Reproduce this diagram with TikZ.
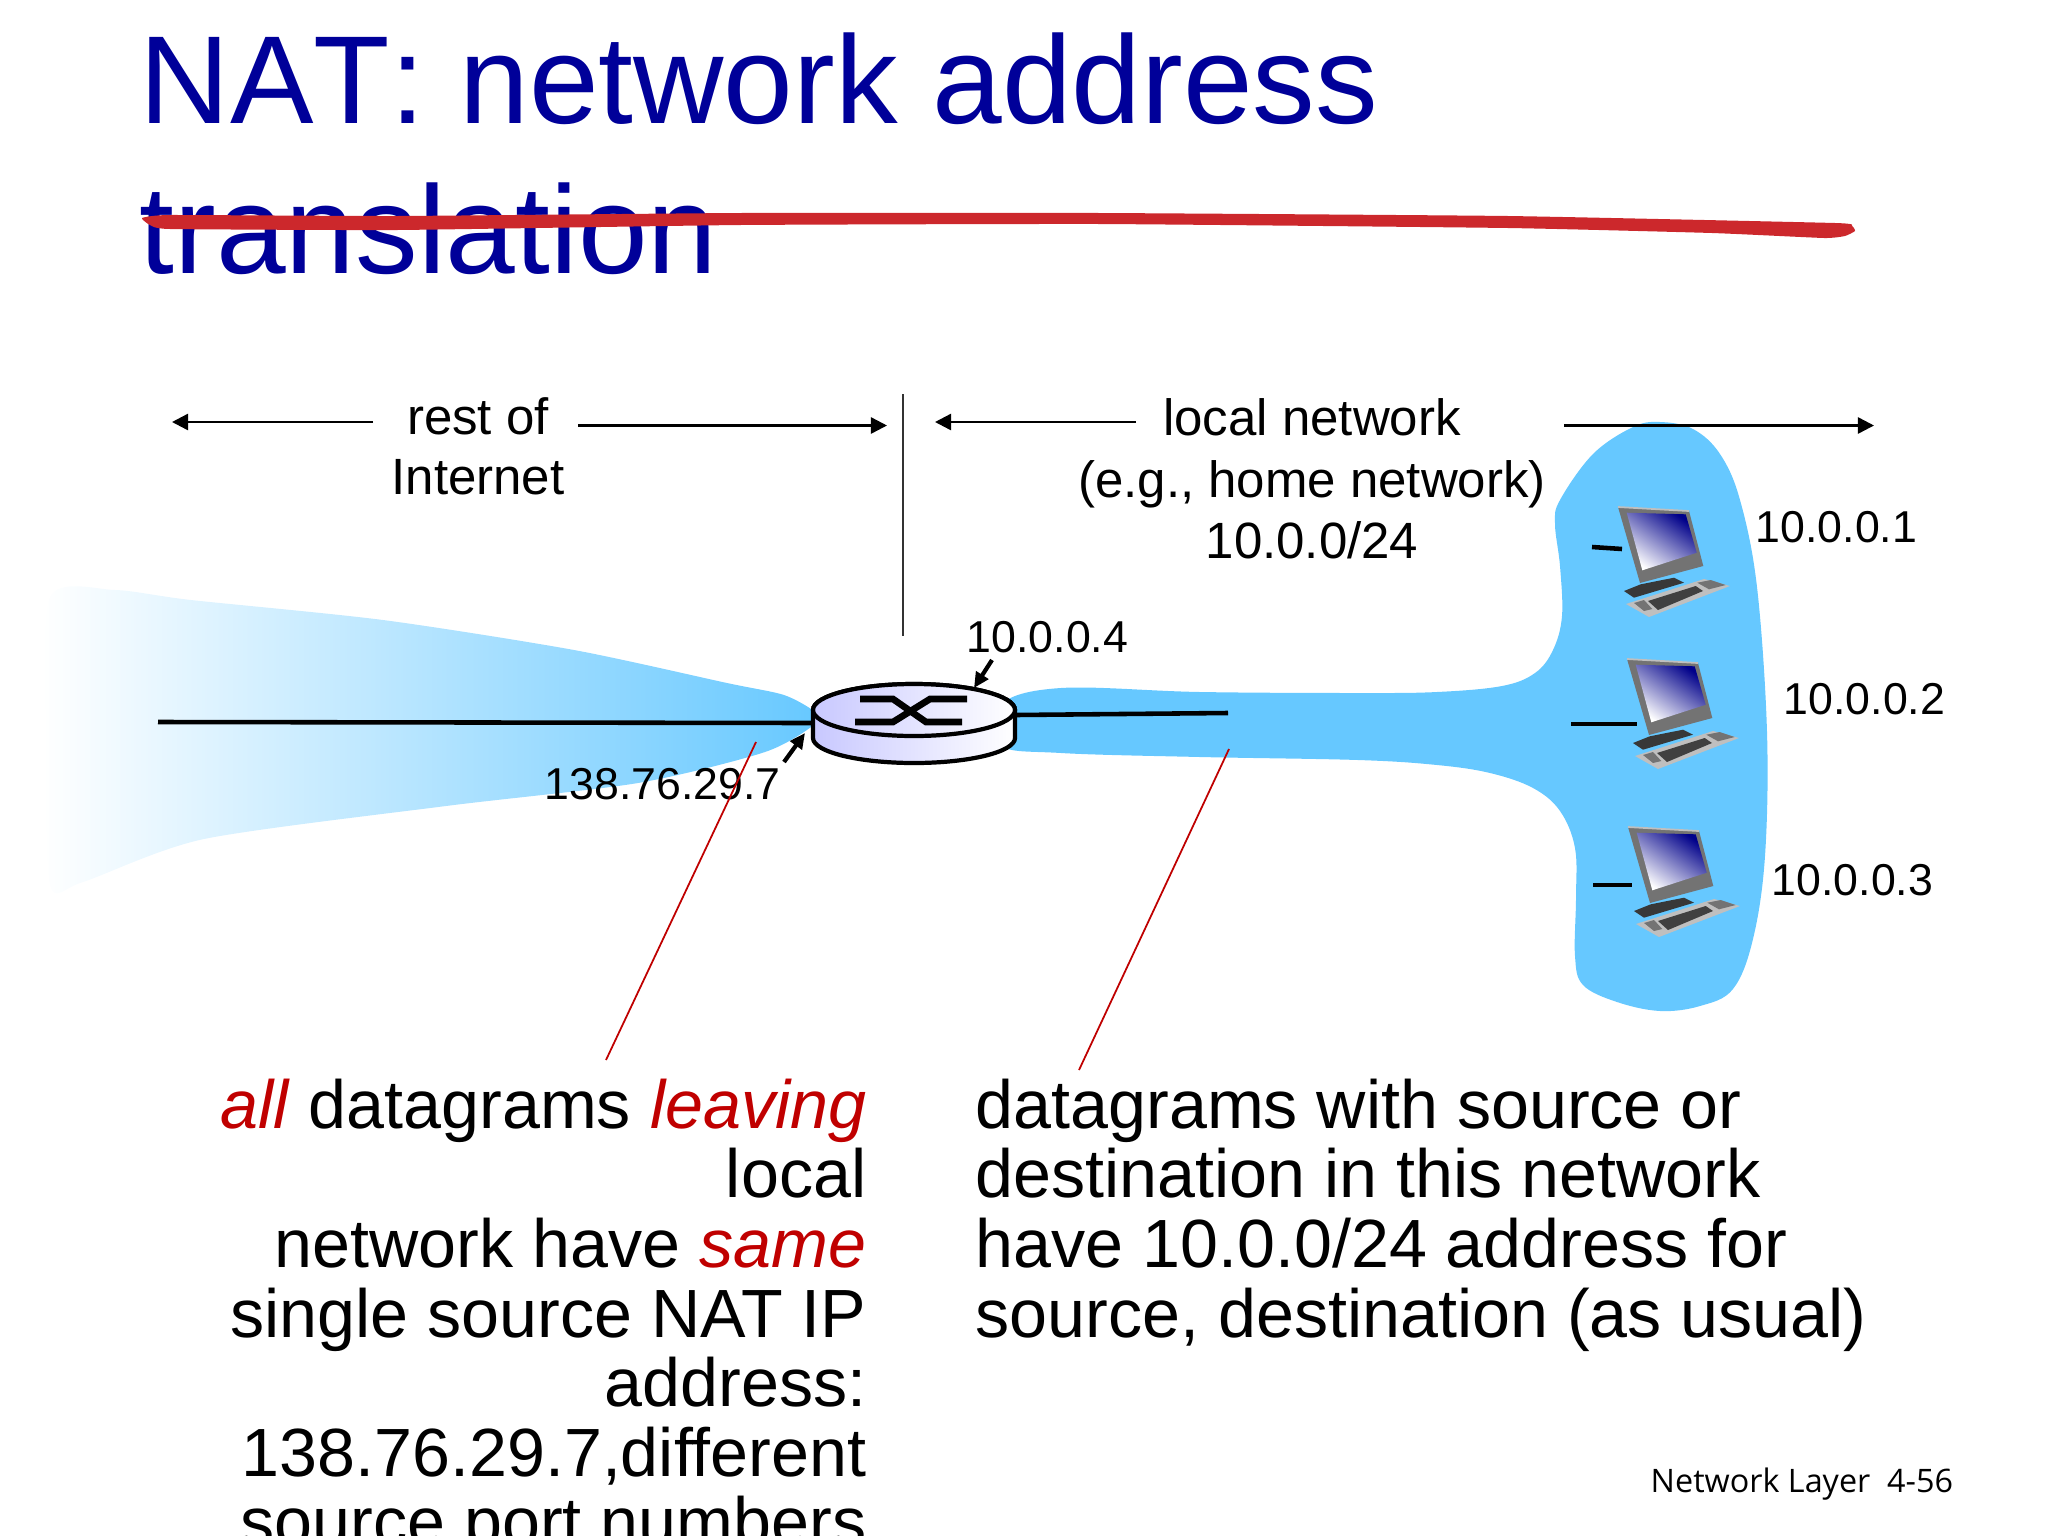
\documentclass[tikz,border=0pt]{standalone}
\usepackage{fontspec}
\usepackage{xcolor}
\usetikzlibrary{arrows.meta}
\setmainfont{Liberation Sans}
\newfontfamily\footfont{Open Sans}
\newfontfamily\titlefont[Kerning=Off]{Liberation Sans}
\definecolor{titleblue}{HTML}{000099}
\definecolor{strikered}{HTML}{CC282C}
\definecolor{cloudblue}{HTML}{66C8FF}
\definecolor{noteline}{HTML}{C00000}
\definecolor{routerlilac}{HTML}{C8C8FF}
\newcommand{\rd}[1]{\textcolor{noteline}{\textit{#1}}}

\begin{document}
\begin{tikzpicture}[x=0.01cm,y=-0.01cm,
        label/.style={inner sep=0pt,font=\fontsize{12.7}{15}\selectfont},
        biglabel/.style={inner sep=0pt,font=\fontsize{14.5}{17}\selectfont},
        note/.style={inner sep=0pt,font=\fontsize{19.4}{19.8}\selectfont},
        span/.style={line width=0.7pt,-{Triangle[length=4.6pt,width=4.6pt]}},
        addr/.style={line width=1.2pt,-{Triangle[length=4.4pt,width=4pt]}},
        wire/.style={line width=1.3pt},
        hostpc/.pic={
            \fill[black!55] (0,0) -- (71,4) -- (85.3,59) -- (22,76) -- cycle;
            \draw[black!25,line width=0.5pt] (0,0) -- (71,4);
            \shade[left color=titleblue!90!black,right color=white,shading angle=-35]
                (8.7,5.7) -- (67.7,7.3) -- (78.7,45.7) -- (24.3,63.3) -- cycle;
            \fill[black!78] (6,84) -- (22.7,77.3) -- (56,70.7) -- (66,75.7) -- (16,90.7) -- cycle;
            \fill[black!25] (8,97) -- (86,72) -- (112,79) -- (31,110) -- cycle;
            \fill[black!75] (30,94) -- (77.7,79) -- (85,84) -- (40,103) -- cycle;
            \fill[black!55] (79.3,75.7) -- (92.7,73) -- (107.7,78) -- (91,82.3) -- cycle;
            \fill[black!55] (16,96) -- (26,93) -- (34.3,102) -- (26,104) -- cycle;
        }]
    \useasboundingbox (0,0) rectangle (2048,1536);
    \clip (0,0) rectangle (2048,1536);

    % both clouds sit under everything else
    \shade[left color=white,right color=cloudblue] plot[smooth cycle,tension=0.45] coordinates {
        (50,597) (115,590) (191,600) (383,620) (574,650) (727,683) (784,695) (815,712)
        (815,724) (765,752) (638,783) (446,806) (204,839) (83,882) (50,885) (46,740)};
    \fill[cloudblue] plot[smooth cycle,tension=0.6] coordinates {
        (1000,705) (1061,688) (1200,692) (1358,693) (1437,692) (1502,686) (1535,673) (1553,650) (1562,616) (1560,566)
        (1555,524) (1560,500) (1593,454) (1633,427) (1660,422) (1693,429) (1720,454) (1740,500)
        (1757,587) (1767,732) (1765,856) (1753,939) (1733,989) (1700,1006) (1660,1011) (1617,1002)
        (1583,985) (1575,956) (1576,898) (1575,848) (1560,811) (1533,788) (1490,773) (1437,765) (1358,760) (1200,757)
        (1061,753) (1000,745)};

    % hosts
    \pic at (1618,507) {hostpc};
    \pic at (1627,659) {hostpc};
    \pic at (1628,827) {hostpc};
    \coordinate (stubA) at (1592,547);
    \coordinate (portA) at (1622,549);
    \coordinate (stubB) at (1571,724);
    \coordinate (portB) at (1637,724);
    \coordinate (stubC) at (1593,885);
    \coordinate (portC) at (1632,885);
    \draw[wire] (stubA) -- (portA);
    \draw[wire] (stubB) -- (portB);
    \draw[wire] (stubC) -- (portC);

    % router
    \coordinate (wan) at (158,722);
    \coordinate (lan) at (1228,713);
    \coordinate (routerW) at (813,723);
    \coordinate (routerE) at (1015,715);
    \draw[wire] (wan) -- (routerW);
    \draw[wire] (routerE) -- (lan);
    \draw[line width=1.2pt,left color=routerlilac,right color=white]
        (813,710) -- (813,738) arc[start angle=180,end angle=360,x radius=101,y radius=-25]
        -- (1015,710) arc[start angle=0,end angle=180,x radius=101,y radius=-26] -- cycle;
    \draw[line width=1.2pt,left color=routerlilac,right color=white]
        (914,710) ellipse[x radius=101,y radius=26];
    \draw[line width=1.9pt] (855,722) -- (893,722) -- (930,699) -- (967,699);
    \draw[line width=1.9pt] (860,699) -- (893,699) -- (926,722) -- (962,722);

    % title
    \node[anchor=north west,inner sep=0pt,align=left,text=titleblue,font=\titlefont\fontsize{35.6}{42.7}\selectfont]
        (title) at (139,32) {NAT: network address\\translation};
    \fill[strikered] plot[smooth cycle,tension=0.25] coordinates {
        (142,218) (170,215) (397,216) (740,213) (1100,213) (1508,216) (1835,223) (1852,226) (1855,231)
        (1845,236) (1824,238) (1712,233) (1508,228) (1100,224) (740,225) (397,230) (170,229) (150,225)};

    % extent of the two parts
    \coordinate (splitT) at (903,394);
    \coordinate (splitB) at (903,636);
    \draw[line width=0.5pt,black!80] (splitT) -- (splitB);
    \node[biglabel,anchor=base] (rest) at (478,434) {rest of};
    \node[biglabel,anchor=base] (inet) at (478,494) {Internet};
    \node[biglabel,anchor=base] (localA) at (1312,435) {local network};
    \node[biglabel,anchor=base] (localB) at (1312,497) {(e.g., home network)};
    \node[biglabel,anchor=base] (localC) at (1312,558) {10.0.0/24};
    \coordinate (inetW) at (172,422);
    \coordinate (inetWs) at (373,422);
    \coordinate (inetE) at (887,425.5);
    \coordinate (inetEs) at (578,425.5);
    \coordinate (localW) at (935,422);
    \coordinate (localWs) at (1136,422);
    \coordinate (localE) at (1874,425.5);
    \coordinate (localEs) at (1564,425.5);
    \draw[span] (inetWs) -- (inetW);
    \draw[span] (inetEs) -- (inetE);
    \draw[span] (localWs) -- (localW);
    \draw[span] (localEs) -- (localE);

    % addresses
    \node[label,anchor=base west] (hostA) at (1755,542) {10.0.0.1};
    \node[label,anchor=base west] (hostB) at (1783,714) {10.0.0.2};
    \node[label,anchor=base west] (hostC) at (1771,895) {10.0.0.3};
    \node[label,anchor=base west] (inner) at (966,652) {10.0.0.4};
    \node[label,anchor=base west] (outer) at (544,799) {138.76.29.7};
    \coordinate (innerA) at (992,660);
    \coordinate (innerB) at (974,688);
    \coordinate (outerA) at (784,762);
    \coordinate (outerB) at (805,733);
    \draw[addr] (innerA) -- (innerB);
    \draw[addr] (outerA) -- (outerB);

    % notes
    \coordinate (leaveA) at (756,742);
    \coordinate (leaveB) at (606,1060);
    \coordinate (insideA) at (1229,749);
    \coordinate (insideB) at (1079,1070);
    \draw[line width=0.5pt,red!75!black] (leaveA) -- (leaveB);
    \draw[line width=0.5pt,red!75!black] (insideA) -- (insideB);
    \node[note,anchor=north east,align=right] (leftnote) at (867,1078) {\rd{all} datagrams \rd{leaving}\\local\\
        network have \rd{same}\\single source NAT IP\\address:\\138.76.29.7,different\\source port numbers};
    \node[note,anchor=north west,align=left] (rightnote) at (975,1078) {datagrams with source or\\
        destination in this network\\have 10.0.0/24 address for\\source, destination (as usual)};

    \node[anchor=base west,inner sep=0pt,font=\footfont\fontsize{9.2}{11}\selectfont] (foot) at (1650,1492) {Network Layer\ \ 4-56};
\end{tikzpicture}
\end{document}
